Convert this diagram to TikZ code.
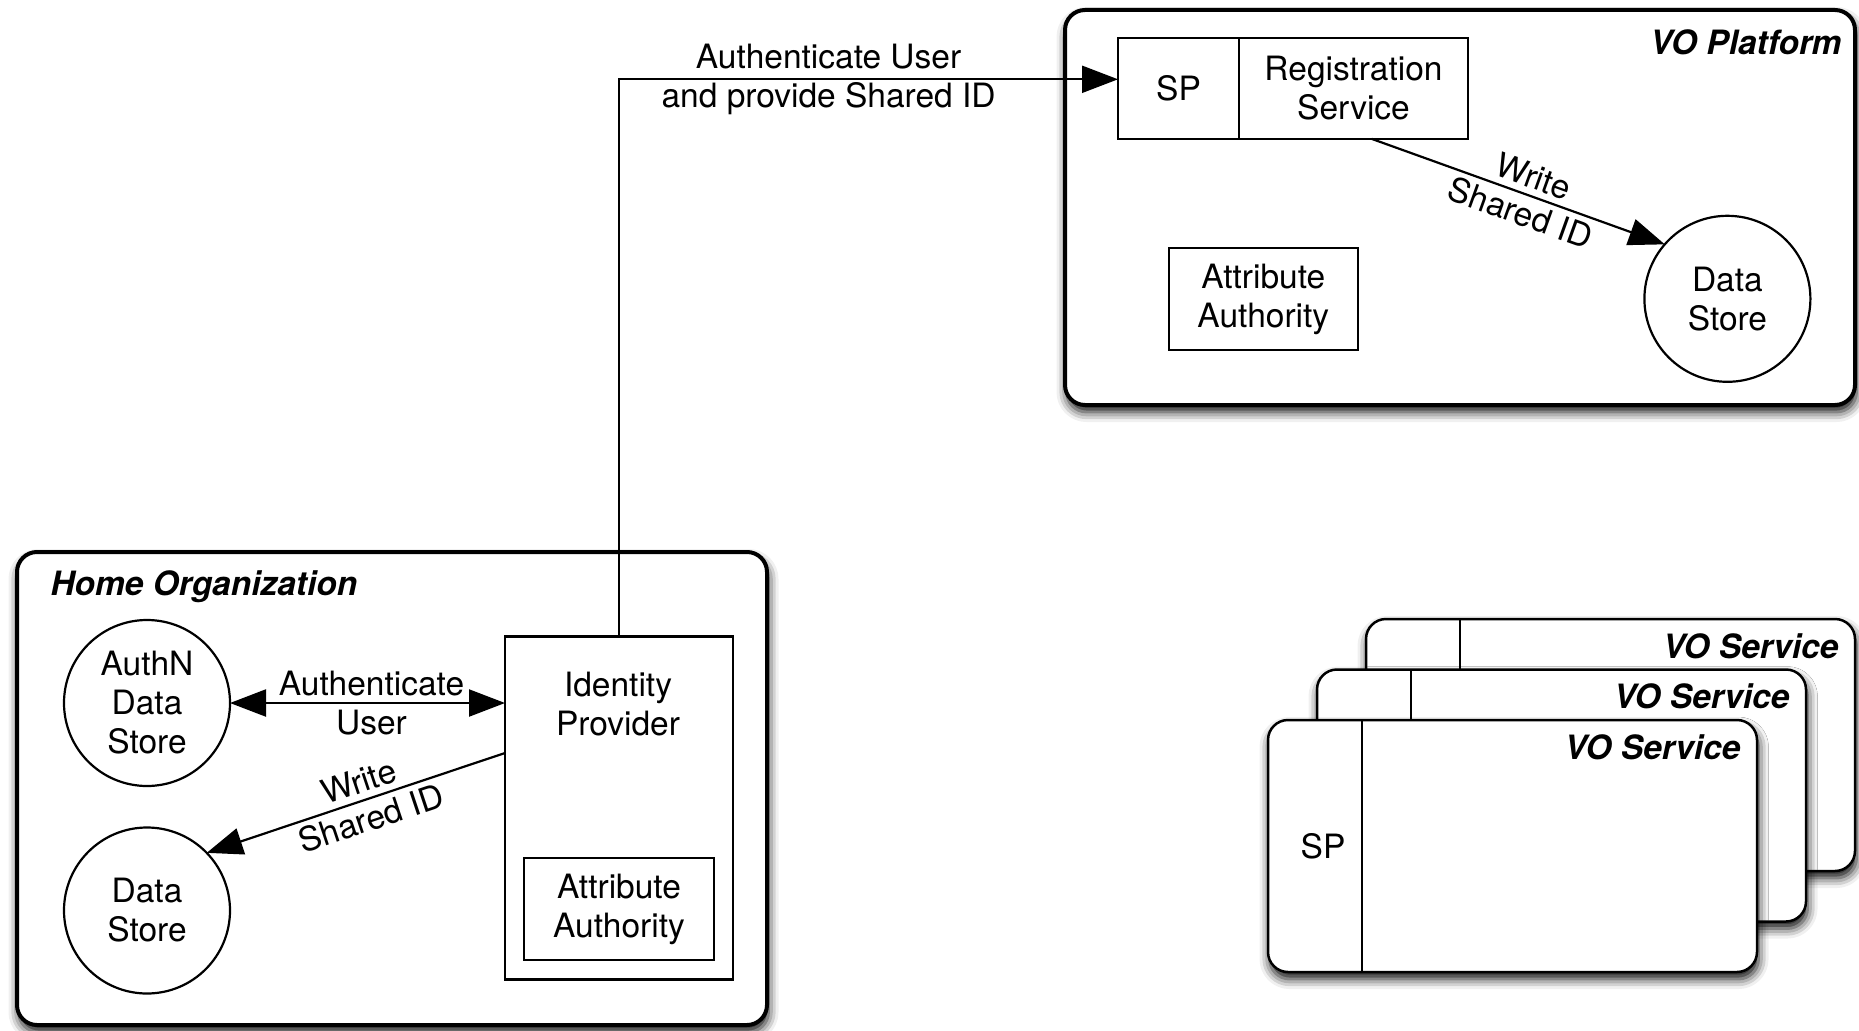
\documentclass[tikz,border=0pt]{standalone}
\usepackage{fontspec}
\setmainfont{TeX Gyre Heros}
\usetikzlibrary{arrows.meta,shadows.blur,calc}

\begin{document}
\begin{tikzpicture}[x=1pt,y=-1pt,
  every node/.style={font=\fontsize{33.5}{39}\selectfont},
  title/.style={font=\fontsize{33.5}{39}\selectfont\bfseries\itshape},
  softshadow/.style={blur shadow={shadow xshift=1.5pt, shadow yshift=-7pt,
      shadow blur radius=10pt, shadow opacity=95}},
  frame/.style={draw, line width=4pt, rounded corners=20pt, fill=white,
      outer sep=0pt, anchor=north west, softshadow},
  card/.style={draw, line width=2.5pt, rounded corners=20pt, fill=white,
      outer sep=0pt, anchor=north west, minimum width=489pt,
      minimum height=252pt, softshadow},
  box/.style={draw, line width=2.2pt, align=center, inner sep=0pt, outer sep=0pt},
  store/.style={draw, circle, line width=2.2pt, minimum size=166pt,
      align=center, inner sep=0pt, outer sep=0pt},
  conn/.style={line width=2.2pt, -{Triangle[length=36pt,width=27pt]}},
  dconn/.style={line width=2.2pt, {Triangle[length=36pt,width=27pt]}-{Triangle[length=36pt,width=27pt]}},
  lbl/.style={align=center, inner sep=0pt}]

\useasboundingbox (0,0) rectangle (1859,1030);

% ---------- VO Platform ----------
\node[frame, minimum width=790pt, minimum height=395pt] (vop) at (1065,10) {};
\node[title, anchor=base east] (voptitle) at (1845,55) {VO Platform};
\node[box, minimum width=121pt, minimum height=101pt] (sp) at (1178.5,88.3) {SP};
\node[box, minimum width=229pt, minimum height=101pt] (reg) at (1353.5,88.3) {Registration\\Service};
\node[box, minimum width=189pt, minimum height=102pt] (voaa) at (1263.3,299) {Attribute\\Authority};
\node[store] (vods) at (1727.4,298.8) {Data\\Store};
\draw[conn] ([xshift=18pt]reg.south) -- (vods.139)
  node[lbl, pos=0.53, sloped] {Write\\Shared ID};

% ---------- Home Organization ----------
\node[frame, minimum width=750pt, minimum height=473pt] (home) at (17,552) {};
\node[title, anchor=base west] (hometitle) at (47,595) {Home Organization};
\node[store] (authn) at (147,703) {AuthN\\Data\\Store};
\node[store] (hods) at (147,910.5) {Data\\Store};
\node[box, minimum width=228pt, minimum height=343pt] (idp) at (619,808) {};
\node[lbl] (idptext) at (618,703.6) {Identity\\Provider};
\node[box, minimum width=190pt, minimum height=102pt] (hoaa) at (619,909) {Attribute\\Authority};

\draw[dconn] (authn.east) -- (authn.east -| idp.west)
  node[lbl, midway, xshift=4pt] {Authenticate\\User};
\draw[conn] ([yshift=55pt]idp.west) -- (hods.44)
  node[lbl, pos=0.47, sloped] {Write\\Shared ID};

% ---------- link from the Identity Provider to the VO Platform ----------
\draw[conn] (idp.north) |- ([yshift=9pt]sp.west)
  node[lbl, pos=0.71] {Authenticate User\\and provide Shared ID};

% ---------- stacked VO services ----------
\foreach \n/\x/\y in {c3/1366/619, c2/1317/669.5, c1/1268/720}{
  \node[card] (\n) at (\x,\y) {};
  \draw[line width=2.5pt] ($(\n.north west)+(94,0)$) -- ($(\n.south west)+(94,0)$);
  \node[title, anchor=base east] (\n title) at ($(\n.north east)+(-13,39)$) {VO Service};
}
\node (c1sp) at ($(c1.west)+(55,0)$) {SP};

\end{tikzpicture}
\end{document}
